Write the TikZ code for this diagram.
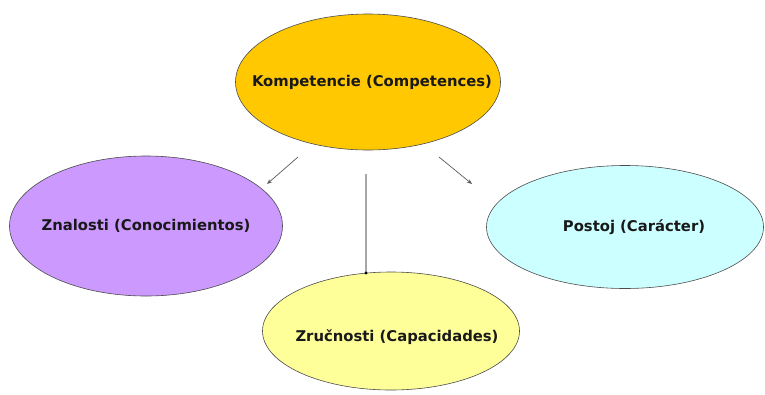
\documentclass[tikz,border=0pt]{standalone}
\usepackage{fontspec}
\setmainfont{DejaVu Sans}
\usetikzlibrary{shapes.geometric,arrows.meta}
\definecolor{gold}{HTML}{FFC800}
\definecolor{lilac}{HTML}{CC99FF}
\definecolor{paleyellow}{HTML}{FFFF99}
\definecolor{palecyan}{HTML}{CCFFFF}
\tikzset{
  bubble/.style={ellipse, draw=black!70, line width=0.6pt, inner sep=0pt},
  bubbletext/.style={font=\fontsize{14.8}{17}\selectfont\bfseries, text=black!90},
  link/.style={draw=black!65, line width=0.7pt, -{Stealth[length=5pt,width=4pt]}},
}
\begin{document}
\begin{tikzpicture}[x=1pt,y=-1pt]
\useasboundingbox (0,0) rectangle (765,394);
\node[bubble, fill=gold, minimum width=265pt, minimum height=136pt,
  label={[bubbletext, xshift=4pt]center:Kompetencie (Competences)}] (komp) at (368,82) {};
\node[bubble, fill=lilac, minimum width=273pt, minimum height=140pt,
  label={[bubbletext]center:Znalosti (Conocimientos)}] (zna) at (146,226) {};
\node[bubble, fill=palecyan, minimum width=277pt, minimum height=123pt,
  label={[bubbletext, xshift=9pt]center:Postoj (Carácter)}] (pos) at (625,227) {};
\node[bubble, fill=paleyellow, minimum width=257pt, minimum height=118pt,
  label={[bubbletext, xshift=6pt, yshift=-6pt]center:Zručnosti (Capacidades)}] (zru) at (391,331) {};
\coordinate (a1) at (298,157);
\coordinate (a2) at (267,184);
\coordinate (b1) at (366,174);
\coordinate (b2) at (366,273);
\coordinate (c1) at (439,157);
\coordinate (c2) at (472,184);
\draw[link] (a1) -- (a2);
\draw[draw=black!35, line width=1.4pt] (b1) -- (b2);
\fill[black] (b2) circle (1.6pt);
\draw[link] (c1) -- (c2);
\end{tikzpicture}
\end{document}
